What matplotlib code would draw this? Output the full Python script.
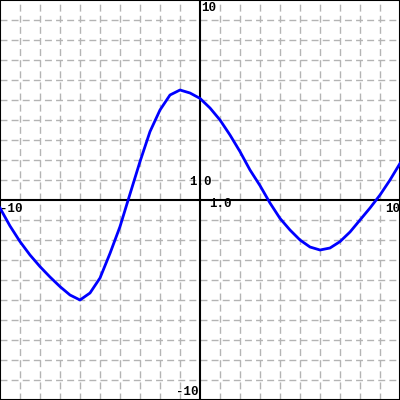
import numpy as np
import matplotlib
matplotlib.use("Agg")
import matplotlib.pyplot as plt

# curve samples
X = [-10, -9.5, -9, -8.5, -8, -7.5, -7, -6.5, -6, -5.5, -5, -4.5, -4, -3.5, -3,
     -2.5, -2, -1.5, -1, -0.5, 0, 0.5, 1, 1.5, 2, 2.5, 3, 3.5, 4, 4.5, 5,
     5.5, 6, 6.5, 7, 7.5, 8, 8.5, 9, 9.5, 10]
Y = [-0.4, -1.3, -2.08, -2.75, -3.33, -3.85, -4.33, -4.75, -5.0, -4.65, -3.9,
     -2.67, -1.33, 0.3, 1.92, 3.42, 4.5, 5.25, 5.5, 5.35, 5.08, 4.6, 4.0, 3.25,
     2.42, 1.5, 0.72, -0.15, -0.92, -1.5, -2.0, -2.35, -2.5, -2.4, -2.08, -1.6,
     -1.0, -0.4, 0.25, 1.0, 1.83]

fig = plt.figure(figsize=(4, 4), dpi=100)
ax = fig.add_axes([0, 0, 1, 1])
ax.set_xlim(-10, 10); ax.set_ylim(-10, 10)
for v in np.arange(-9, 10):
    if v == 0:
        continue
    ax.axvline(v, color="#b4b4b4", lw=1, ls=(0, (5, 3)), zorder=1)
    ax.axhline(v, color="#b4b4b4", lw=1, ls=(0, (5, 3)), zorder=1)
ax.axhline(0, color="black", lw=1.5, zorder=2)
ax.axvline(0, color="black", lw=1.5, zorder=2)
ax.plot(X, Y, color="#0000ff", lw=2, zorder=3)

fp = dict(family="Liberation Mono", fontweight="bold", fontsize=9, zorder=4)
ax.text(0.05, 9.9, "10", ha="left", va="top", **fp)
ax.text(-0.1, -9.9, "-10", ha="right", va="bottom", **fp)
ax.text(-10, -0.15, "-10", ha="left", va="top", **fp)
ax.text(10, -0.15, "10", ha="right", va="top", **fp)
ax.text(0, 0.75, "1.0", ha="center", va="baseline", **fp)
ax.text(1, -0.35, "1.0", ha="center", va="baseline", **fp)

ax.set_xticks([]); ax.set_yticks([])
for s in ax.spines.values():
    s.set_color("black"); s.set_linewidth(1.5)
fig.savefig("out.png", dpi=100)
